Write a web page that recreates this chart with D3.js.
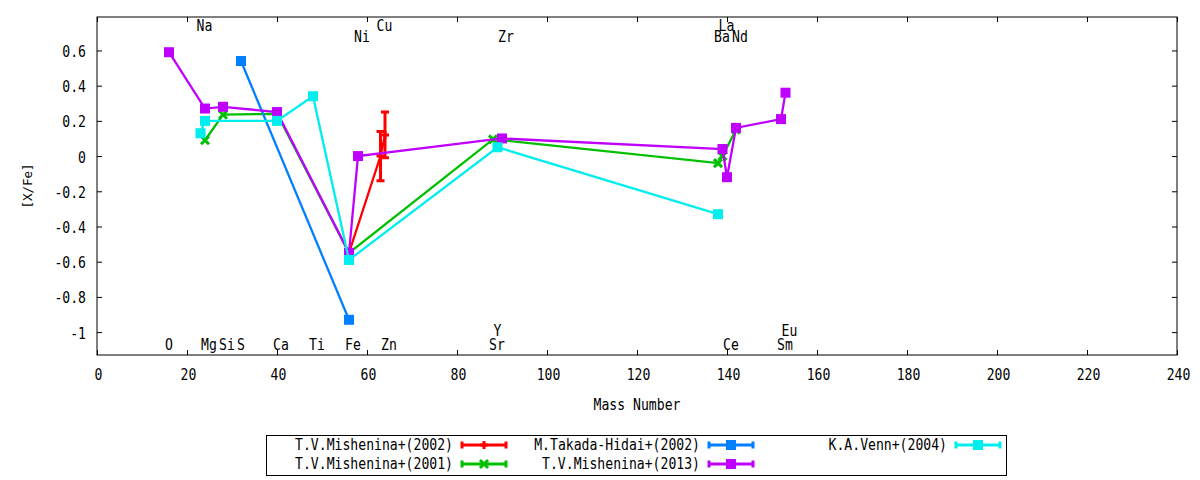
<!DOCTYPE html>
<html>
<head>
<meta charset="utf-8">
<script src="https://cdn.jsdelivr.net/npm/d3@7"></script>
<style>
  body { margin: 0; background: #fff; }
  text { font-family: "DejaVu Sans Mono", monospace; fill: #000; }
</style>
</head>
<body>
<div id="chart"></div>
<script>

// element data per paper: mass number, [X/Fe], error
var mishenina2002 = [
   {el: "Fe", mass: 56, value: -0.55, err: 0},
   {el: "Cu", mass: 63, value: 0.00, err: 0.14},
   {el: "Zn", mass: 64, value: 0.12, err: 0.13}
];

var mishenina2001 = [
   {el: "Mg", mass: 24, value: 0.09, err: 0},
   {el: "Si", mass: 28, value: 0.235, err: 0},
   {el: "Ca", mass: 40, value: 0.24, err: 0},
   {el: "Fe", mass: 56, value: -0.55, err: 0},
   {el: "Sr", mass: 88, value: 0.095, err: 0},
   {el: "Ba", mass: 138, value: -0.04, err: 0},
   {el: "La", mass: 139, value: 0.00, err: 0},
   {el: "Nd", mass: 142, value: 0.15, err: 0}
];

var takadaHidai2002 = [
   {el: "S", mass: 32, value: 0.54, err: 0},
   {el: "Fe", mass: 56, value: -0.93, err: 0}
];

var mishenina2013 = [
   {el: "O", mass: 16, value: 0.59, err: 0},
   {el: "Mg", mass: 24, value: 0.27, err: 0},
   {el: "Si", mass: 28, value: 0.28, err: 0},
   {el: "Ca", mass: 40, value: 0.25, err: 0},
   {el: "Fe", mass: 56, value: -0.55, err: 0},
   {el: "Ni", mass: 58, value: 0.00, err: 0},
   {el: "Zr", mass: 90, value: 0.10, err: 0},
   {el: "La", mass: 139, value: 0.04, err: 0},
   {el: "Ce", mass: 140, value: -0.12, err: 0},
   {el: "Nd", mass: 142, value: 0.16, err: 0},
   {el: "Sm", mass: 152, value: 0.21, err: 0},
   {el: "Eu", mass: 153, value: 0.36, err: 0}
];

var venn2004 = [
   {el: "Na", mass: 23, value: 0.13, err: 0},
   {el: "Mg", mass: 24, value: 0.20, err: 0},
   {el: "Ca", mass: 40, value: 0.20, err: 0},
   {el: "Ti", mass: 48, value: 0.34, err: 0},
   {el: "Fe", mass: 56, value: -0.59, err: 0},
   {el: "Y", mass: 89, value: 0.05, err: 0},
   {el: "Ba", mass: 138, value: -0.33, err: 0}
];

// element names written along the top and bottom of the plot
var topNames = ["Na", "Ni", "Cu", "Zr", "Ba", "La", "Nd"];
var topMass  = [23, 58, 63, 90, 138, 139, 142];
var topZ     = [11, 28, 29, 40, 56, 57, 60];

var bottomNames = ["O", "Mg", "Si", "S", "Ca", "Ti", "Fe", "Zn", "Sr", "Y", "Ce", "Sm", "Eu"];
var bottomMass  = [16, 24, 28, 32, 40, 48, 56, 64, 88, 89, 140, 152, 153];
var bottomZ     = [8, 12, 14, 16, 20, 22, 26, 30, 38, 39, 58, 62, 63];

// ticks
var xTicks = [0, 20, 40, 60, 80, 100, 120, 140, 160, 180, 200, 220, 240];
var yTicks = [0.6, 0.4, 0.2, 0, -0.2, -0.4, -0.6, -0.8, -1];
var yTickLabels = ["0.6", "0.4", "0.2", "0", "-0.2", "-0.4", "-0.6", "-0.8", "-1"];

var series = [
  {name: "T.V.Mishenina+(2002)", data: mishenina2002, color: "#ff0000", marker: "plus"},
  {name: "T.V.Mishenina+(2001)", data: mishenina2001, color: "#00c000", marker: "cross"},
  {name: "M.Takada-Hidai+(2002)", data: takadaHidai2002, color: "#0080ff", marker: "square"},
  {name: "T.V.Mishenina+(2013)", data: mishenina2013, color: "#c000ff", marker: "square"},
  {name: "K.A.Venn+(2004)", data: venn2004, color: "#00eeee", marker: "square"}
];


// set the dimensions and margins of the graph
var margin = {top: 17, right: 23, bottom: 125, left: 97},
    width = 1200 - margin.left - margin.right,
    height = 480 - margin.top - margin.bottom;

var root = d3.select("#chart")
  .append("svg")
    .attr("width", 1200)
    .attr("height", 480);

var svg = root.append("g")
    .attr("transform", "translate(" + margin.left + "," + margin.top + ")");

var x = d3.scaleLinear().domain([0, 240]).range([0, width]);
var y = d3.scaleLinear().domain([-1.13, 0.79]).range([height, 0]);

// narrow tall text like the gnuplot font
function label(g, px, py, str, anchor) {
  return g.append("text")
    .attr("transform", "translate(" + px + "," + py + ") scale(0.82,1)")
    .attr("text-anchor", anchor || "start")
    .style("font-size", "16px")
    .text(str);
}

// axes, ticks pointing inward on all four sides
var xAxis = svg.append("g")
  .attr("transform", "translate(0," + height + ")")
  .call(d3.axisBottom(x).tickValues(xTicks).tickSizeInner(-5).tickSizeOuter(0).tickFormat(d3.format("d")));
svg.append("g")
  .call(d3.axisTop(x).tickValues(xTicks).tickSizeInner(-5).tickSizeOuter(0).tickFormat(""));
var yAxis = svg.append("g")
  .call(d3.axisLeft(y).tickValues(yTicks).tickSizeInner(-5).tickSizeOuter(0)
    .tickFormat(function(d, i) { return yTickLabels[i]; }));
svg.append("g")
  .attr("transform", "translate(" + width + ",0)")
  .call(d3.axisRight(y).tickValues(yTicks).tickSizeInner(-5).tickSizeOuter(0).tickFormat(""));

svg.selectAll(".domain").remove();
svg.selectAll(".tick line").attr("stroke", "#000");

xAxis.selectAll("text")
  .attr("y", 0).attr("dy", null)
  .attr("transform", "translate(1,25) scale(0.82,1)")
  .style("font-size", "16px");
yAxis.selectAll("text")
  .attr("x", 0).attr("dy", null)
  .attr("transform", "translate(-11,6) scale(0.82,1)")
  .style("font-size", "16px");

svg.append("rect")
  .attr("width", width)
  .attr("height", height)
  .attr("fill", "none")
  .attr("stroke", "#000")
  .attr("stroke-width", 1);

// axis titles
label(svg, width / 2, 393, "Mass Number", "middle");
svg.append("text")
  .attr("transform", "translate(-65," + (height / 2) + ") rotate(-90)")
  .attr("text-anchor", "middle")
  .style("font-size", "12.5px")
  .text("[X/Fe]");

// element names, odd Z shifted away from the even ones
topNames.forEach(function(n, i) {
  label(svg, x(topMass[i]) - 4, topZ[i] % 2 ? 14 : 24.5, n);
});
bottomNames.forEach(function(n, i) {
  label(svg, x(bottomMass[i]) - 4, bottomZ[i] % 2 ? 319 : 333, n);
});

// marker shapes
function drawMarker(g, cx, cy, kind, color) {
  if (kind === "square") {
    g.append("rect")
      .attr("x", cx - 5).attr("y", cy - 5)
      .attr("width", 10).attr("height", 10)
      .attr("fill", color);
  } else if (kind === "plus") {
    g.append("path")
      .attr("d", "M" + (cx - 4) + "," + cy + "H" + (cx + 4) + "M" + cx + "," + (cy - 4) + "V" + (cy + 4))
      .attr("stroke", color).attr("stroke-width", 3).attr("fill", "none");
  } else {
    g.append("path")
      .attr("d", "M" + (cx - 4) + "," + (cy - 4) + "L" + (cx + 4) + "," + (cy + 4) +
                 "M" + (cx - 4) + "," + (cy + 4) + "L" + (cx + 4) + "," + (cy - 4))
      .attr("stroke", color).attr("stroke-width", 3).attr("fill", "none");
  }
}

var line = d3.line()
  .x(function(d) { return x(d.mass); })
  .y(function(d) { return y(d.value); });

series.forEach(function(s) {
  var g = svg.append("g");

  g.append("path")
    .datum(s.data)
    .attr("d", line)
    .attr("fill", "none")
    .attr("stroke", s.color)
    .attr("stroke-width", 2.3);

  // error bars with caps
  s.data.filter(function(d) { return d.err > 0; }).forEach(function(d) {
    var cx = x(d.mass), lo = y(d.value - d.err), hi = y(d.value + d.err);
    g.append("path")
      .attr("d", "M" + cx + "," + lo + "V" + hi +
                 "M" + (cx - 4) + "," + lo + "H" + (cx + 4) +
                 "M" + (cx - 4) + "," + hi + "H" + (cx + 4))
      .attr("stroke", s.color).attr("stroke-width", 3).attr("fill", "none");
  });

  s.data.forEach(function(d) {
    drawMarker(g, x(d.mass), y(d.value), s.marker, s.color);
  });
});

// legend, filled column by column
var legend = root.append("g");
legend.append("rect")
  .attr("x", 266.5).attr("y", 435.5)
  .attr("width", 740).attr("height", 40)
  .attr("fill", "none").attr("stroke", "#000");

series.forEach(function(s, i) {
  var col = Math.floor(i / 2), row = i % 2;
  var x0 = 462 + col * 247, ly = 445 + row * 19;
  label(legend, x0 - 9, ly + 4.5, s.name, "end");
  legend.append("path")
    .attr("d", "M" + x0 + "," + ly + "H" + (x0 + 44) +
               "M" + x0 + "," + (ly - 3.5) + "V" + (ly + 3.5) +
               "M" + (x0 + 44) + "," + (ly - 3.5) + "V" + (ly + 3.5))
    .attr("stroke", s.color).attr("stroke-width", 3).attr("fill", "none");
  drawMarker(legend, x0 + 22, ly, s.marker, s.color);
});

</script>
</body>
</html>
